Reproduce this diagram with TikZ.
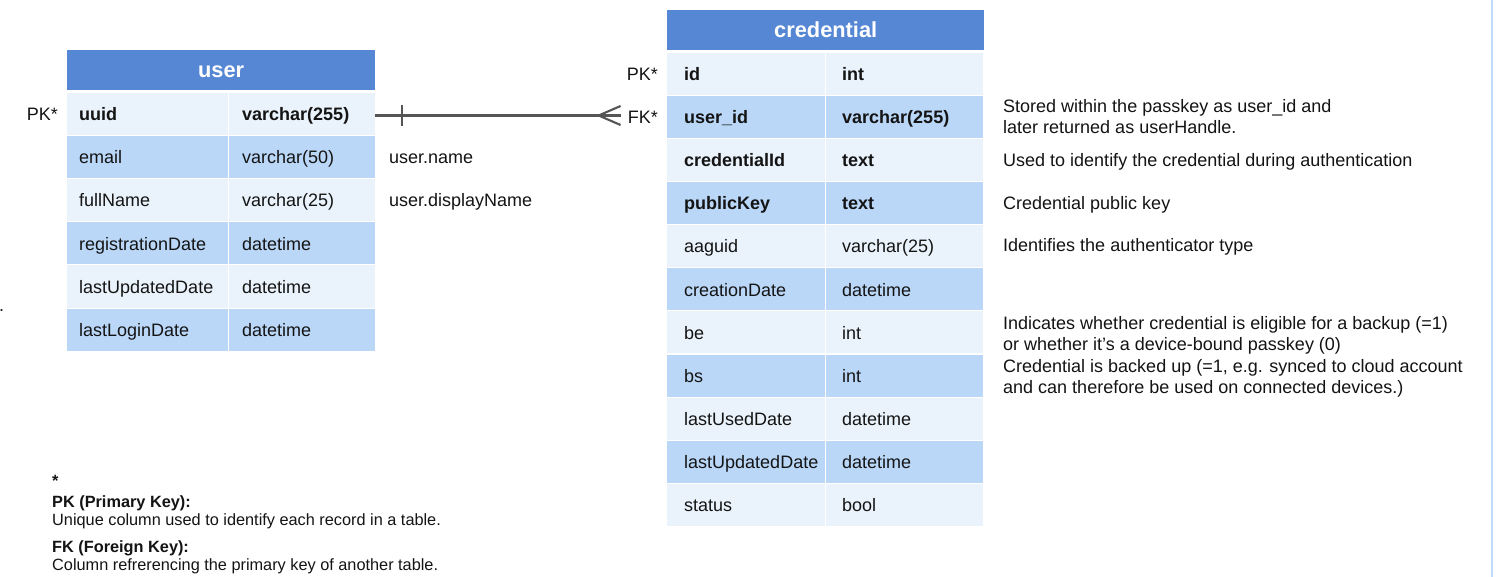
\documentclass[tikz,border=0pt]{standalone}
\usepackage{fontspec}
\setmainfont{Liberation Sans}
\usetikzlibrary{calc}
\definecolor{hdrblue}{RGB}{85,135,212}
\definecolor{rowdark}{RGB}{186,215,248}
\definecolor{rowlight}{RGB}{234,243,251}
\definecolor{inkc}{RGB}{20,20,20}
\definecolor{linkgray}{RGB}{85,85,85}
\definecolor{edgeblue}{RGB}{190,218,250}
\newcommand{\bodyfont}{\fontsize{18}{21}\selectfont}
\newcommand{\notefont}{\fontsize{16.3}{20}\selectfont}
\tikzset{
  x=1pt, y=-1pt,
  every node/.style={text=inkc},
  hdr/.style={fill=hdrblue, text=white, font=\bfseries\fontsize{21.8}{24}\selectfont,
    minimum height=40pt, inner sep=0pt, anchor=north west, text height=16pt, text depth=2pt},
  cell/.style={anchor=west, minimum height=42pt, inner ysep=0pt, align=left,
    font=\bodyfont, text height=16pt, text depth=2pt},
  ucA/.style={cell, text width=137pt, inner xsep=12pt},
  ucB/.style={cell, text width=120pt, inner xsep=13pt},
  ccA/.style={cell, text width=124pt, inner xsep=17pt},
  ccB/.style={cell, text width=125pt, inner xsep=16pt},
  dk/.style={fill=rowdark},
  lt/.style={fill=rowlight},
  keylbl/.style={anchor=east, font=\bodyfont, inner sep=0pt, text height=16pt, text depth=2pt},
  note/.style={anchor=west, font=\bodyfont, inner sep=0pt, align=left, text height=16pt, text depth=2pt},
  foot/.style={anchor=west, font=\notefont, inner sep=0pt, align=left, text height=13pt, text depth=3pt},
  conn/.style={draw=linkgray, line width=2.1pt},
}
\begin{document}
\begin{tikzpicture}
\useasboundingbox (0,0) rectangle (1496,577);
\fill[white] (0,0) rectangle (1496,577);
\draw[edgeblue, line width=2pt] (1492,0) -- (1492,577);
\node[anchor=west, font=\bodyfont, inner sep=0pt, text height=16pt, text depth=2pt] (cut) at (-1,305) {.};

% ---- user table ----
\node[hdr, minimum width=308pt] (uh) at (67,50) {user};
\node[ucA, lt, font=\bfseries\bodyfont] (u1a) at (67,114) {uuid};
\node[ucB, lt, font=\bfseries\bodyfont] (u1b) at (229,114) {varchar(255)};
\node[ucA, dk] (u2a) at (67,157) {email};
\node[ucB, dk] (u2b) at (229,157) {varchar(50)};
\node[ucA, lt] (u3a) at (67,200) {fullName};
\node[ucB, lt] (u3b) at (229,200) {varchar(25)};
\node[ucA, dk] (u4a) at (67,243.5) {registrationDate};
\node[ucB, dk] (u4b) at (229,243.5) {datetime};
\node[ucA, lt] (u5a) at (67,286.5) {lastUpdatedDate};
\node[ucB, lt] (u5b) at (229,286.5) {datetime};
\node[ucA, dk] (u6a) at (67,329.5) {lastLoginDate};
\node[ucB, dk] (u6b) at (229,329.5) {datetime};
\node[keylbl] (upk) at (58,114) {PK*};
\node[note] (un1) at (389,157) {user.name};
\node[note] (un2) at (389,200) {user.displayName};

% ---- credential table ----
\node[hdr, minimum width=317pt] (ch) at (667,10) {credential};
\node[ccA, lt, font=\bfseries\bodyfont] (c1a) at (667,74) {id};
\node[ccB, lt, font=\bfseries\bodyfont] (c1b) at (826,74) {int};
\node[ccA, dk, font=\bfseries\bodyfont] (c2a) at (667,117) {user\_id};
\node[ccB, dk, font=\bfseries\bodyfont] (c2b) at (826,117) {varchar(255)};
\node[ccA, lt, font=\bfseries\bodyfont] (c3a) at (667,160) {credentialId};
\node[ccB, lt, font=\bfseries\bodyfont] (c3b) at (826,160) {text};
\node[ccA, dk, font=\bfseries\bodyfont] (c4a) at (667,203) {publicKey};
\node[ccB, dk, font=\bfseries\bodyfont] (c4b) at (826,203) {text};
\node[ccA, lt] (c5a) at (667,246) {aaguid};
\node[ccB, lt] (c5b) at (826,246) {varchar(25)};
\node[ccA, dk] (c6a) at (667,289) {creationDate};
\node[ccB, dk] (c6b) at (826,289) {datetime};
\node[ccA, lt] (c7a) at (667,332) {be};
\node[ccB, lt] (c7b) at (826,332) {int};
\node[ccA, dk] (c8a) at (667,375.5) {bs};
\node[ccB, dk] (c8b) at (826,375.5) {int};
\node[ccA, lt] (c9a) at (667,418.5) {lastUsedDate};
\node[ccB, lt] (c9b) at (826,418.5) {datetime};
\node[ccA, dk] (c10a) at (667,461.5) {lastUpdatedDate};
\node[ccB, dk] (c10b) at (826,461.5) {datetime};
\node[ccA, lt] (c11a) at (667,504.5) {status};
\node[ccB, lt] (c11b) at (826,504.5) {bool};
\node[keylbl] (cpk) at (658,74) {PK*};
\node[keylbl] (cfk) at (658,117) {FK*};

% ---- column notes ----
\node[note] (n1) at (1003,106) {Stored within the passkey as user\_id and};
\node[note] (n1b) at (1003,127) {later returned as userHandle.};
\node[note] (n2) at (1003,160) {Used to identify the credential during authentication};
\node[note] (n3) at (1003,203) {Credential public key};
\node[note] (n4) at (1003,245) {Identifies the authenticator type};
\node[note] (n5) at (1003,322) {Indicates whether credential is eligible for a backup (=1)};
\node[note] (n5b) at (1003,343) {or whether it’s a device-bound passkey (0)};
\node[note] (n6) at (1003,365) {Credential is backed up (=1, e.g. synced to cloud account};
\node[note] (n6b) at (1003,386) {and can therefore be used on connected devices.)};

% ---- relationship: one user to many credentials ----
\coordinate (ls) at ($(u1b.east)+(0,1.5)$);
\coordinate (le) at ($(ls -| cfk.west)+(-7,0)$);
\draw[conn] (ls) -- (le);
\draw[conn] ($(ls)+(27,-10)$) -- ($(ls)+(27,11)$);
\draw[conn] ($(le)+(-22,0)$) -- ($(le)+(0,-9.5)$);
\draw[conn] ($(le)+(-22,0)$) -- ($(le)+(0,9.5)$);

% ---- key legend ----
\node[foot, font=\bfseries\notefont] (fs) at (52,481) {*};
\node[foot, font=\bfseries\notefont] (fpk) at (52,502) {PK (Primary Key):};
\node[foot] (fpkt) at (52,520) {Unique column used to identify each record in a table.};
\node[foot, font=\bfseries\notefont] (ffk) at (52,547) {FK (Foreign Key):};
\node[foot] (ffkt) at (52,565) {Column refrerencing the primary key of another table.};
\end{tikzpicture}
\end{document}
